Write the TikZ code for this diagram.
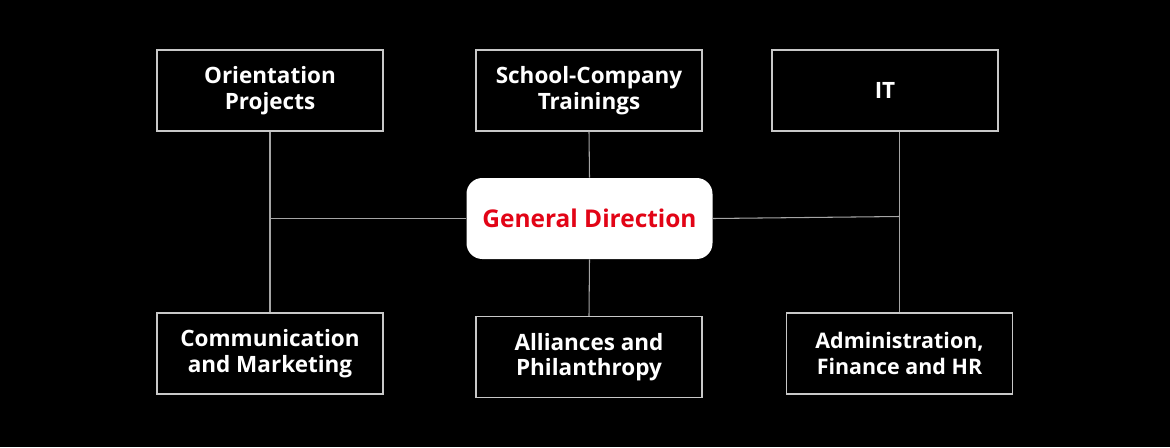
\documentclass[tikz,border=0pt]{standalone}
\usepackage{fontspec}
\setmainfont{Open Sans}
\usepackage{tikz}
\usetikzlibrary{positioning, calc}
\definecolor{myred}{RGB}{226,4,22}
\definecolor{myframe}{RGB}{200,200,200}
\definecolor{mylink}{RGB}{165,165,165}
\tikzset{
  unit/.style={rectangle, draw=myframe, fill=black, text=white,
    minimum width=4.52cm, minimum height=1.62cm, inner sep=0pt,
    align=center, font=\bfseries\fontsize{12.8}{14.6}\selectfont,
    line width=0.6pt},
  head/.style={rectangle, fill=white, text=myred,
    minimum width=4.92cm, minimum height=1.62cm, inner sep=0pt,
    align=center, font=\bfseries\fontsize{13.9}{16}\selectfont,
    rounded corners=9pt},
  link/.style={line width=0.6pt, color=mylink}
}

\begin{document}
\begin{tikzpicture}
  \fill[black] (0,0) rectangle (23.4,-8.94);
  \useasboundingbox (0,0) rectangle (23.4,-8.94);

  % Centre
  \node[head] (gd) at (11.79,-4.37) {General Direction};

  % Top row
  \node[unit] (op) at (5.40,-1.81) {Orientation\\Projects};
  \node[unit] (sc) at (11.78,-1.81) {School-Company\\Trainings};
  \node[unit] (it) at (17.70,-1.81) {IT};

  % Bottom row
  \node[unit] (cm) at (5.40,-7.07) {Communication\\and Marketing};
  \node[unit] (ap) at (11.78,-7.14) {Alliances and\\Philanthropy};
  \node[unit, font=\bfseries\fontsize{12.2}{14.4}\selectfont] (ad) at (17.99,-7.07)
    {Administration,\\Finance and HR};

  % Links
  \coordinate (jl) at (gd.west -| op.south);
  \coordinate (jr) at ($(gd.east -| ad.north)+(0,0.04)$);
  \draw[link] (op.south) -- (cm.north);
  \draw[link] (gd.west) -- (jl);
  \draw[link] (sc.south) -- (gd.north);
  \draw[link] (gd.south) -- (ap.north);
  \draw[link] (gd.east) -- (jr);
  \draw[link] (ad.north) -- (ad.north |- it.south);
\end{tikzpicture}
\end{document}
